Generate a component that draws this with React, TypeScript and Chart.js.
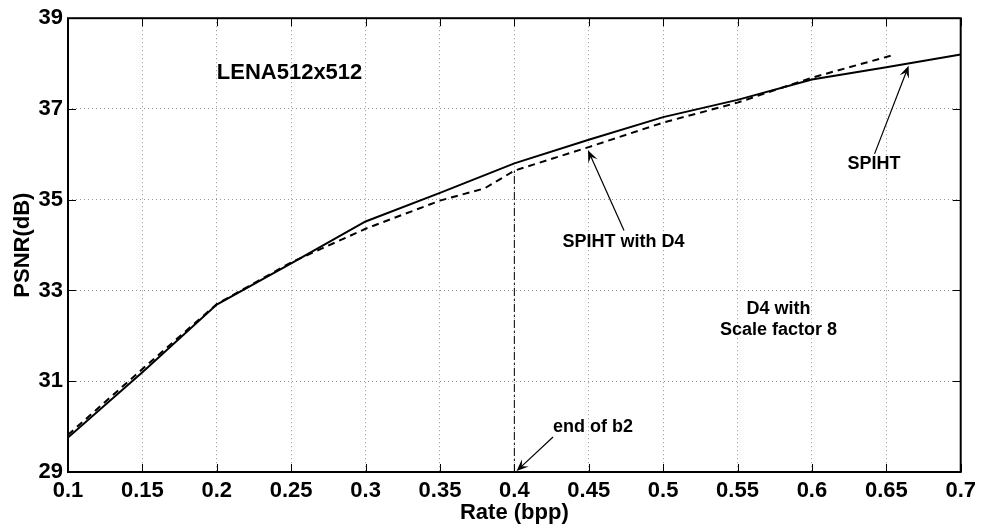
import React, { useEffect, useRef } from "react";
import { Chart, registerables } from "chart.js";
Chart.register(...registerables);

// ---- data ----
const rateSPIHT = [0.1, 0.15, 0.2, 0.25, 0.3, 0.35, 0.4, 0.45, 0.5, 0.55, 0.6, 0.65, 0.7];
const psnrSPIHT = [29.76, 31.2, 32.69, 33.6, 34.52, 35.15, 35.8, 36.32, 36.82, 37.2, 37.65, 37.92, 38.2];

const rateD4 = [0.1, 0.15, 0.2, 0.25, 0.3, 0.35, 0.38, 0.4, 0.45, 0.5, 0.55, 0.6, 0.656];
const psnrD4 = [29.82, 31.27, 32.7, 33.62, 34.36, 34.98, 35.25, 35.64, 36.16, 36.7, 37.14, 37.69, 38.2];

const b2LineX = [0.4, 0.4];
const b2LineY = [29, 35.64];

const xTicks = [0.1, 0.15, 0.2, 0.25, 0.3, 0.35, 0.4, 0.45, 0.5, 0.55, 0.6, 0.65, 0.7];
const xTickLabels = ["0.1", "0.15", "0.2", "0.25", "0.3", "0.35", "0.4", "0.45", "0.5", "0.55", "0.6", "0.65", "0.7"];
const yTicks = [29, 31, 33, 35, 37, 39];
const yTickLabels = ["29", "31", "33", "35", "37", "39"];

const noteTexts = ["LENA512x512", "SPIHT with D4", "SPIHT", "end of b2", "D4 with", "Scale factor 8"];
const noteX = [0.2, 0.4733, 0.6417, 0.4528, 0.5776, 0.5776];
const noteY = [37.8, 34.06, 35.79, 30.0, 32.59, 32.13];
const noteAlign = ["left", "center", "center", "center", "center", "center"];
const noteSize = [22, 18, 18, 18, 18, 18];

const arrowFromX = [0.4737, 0.6421, 0.426];
const arrowFromY = [34.32, 36.01, 29.77];
const arrowToX = [0.4495, 0.665, 0.4015];
const arrowToY = [36.09, 37.95, 29.02];

const FONT = "'Liberation Sans', Arial, Helvetica, sans-serif";

const decorPlugin = {
  id: "decor",
  afterDatasetsDraw(chart: any) {
    const { ctx, chartArea, scales } = chart;
    const xs = scales.x;
    const ys = scales.y;
    const { left, right, top, bottom } = chartArea;
    ctx.save();
    // inward tick marks on all four sides
    ctx.strokeStyle = "#000";
    ctx.lineWidth = 1;
    const tl = 8;
    ctx.beginPath();
    xTicks.forEach((v) => {
      const px = Math.round(xs.getPixelForValue(v)) + 0.5;
      ctx.moveTo(px, bottom);
      ctx.lineTo(px, bottom - tl);
      ctx.moveTo(px, top);
      ctx.lineTo(px, top + tl);
    });
    yTicks.forEach((v) => {
      const py = Math.round(ys.getPixelForValue(v)) + 0.5;
      ctx.moveTo(left, py);
      ctx.lineTo(left + tl, py);
      ctx.moveTo(right, py);
      ctx.lineTo(right - tl, py);
    });
    ctx.stroke();
    // box
    ctx.lineWidth = 2;
    ctx.strokeRect(left, top, right - left, bottom - top);

    // arrows
    ctx.lineWidth = 1.2;
    ctx.fillStyle = "#000";
    for (let i = 0; i < arrowFromX.length; i++) {
      const x0 = xs.getPixelForValue(arrowFromX[i]);
      const y0 = ys.getPixelForValue(arrowFromY[i]);
      const x1 = xs.getPixelForValue(arrowToX[i]);
      const y1 = ys.getPixelForValue(arrowToY[i]);
      const ang = Math.atan2(y1 - y0, x1 - x0);
      const c = Math.cos(ang), s = Math.sin(ang);
      const hl = 12, hw = 5;
      ctx.beginPath();
      ctx.moveTo(x0, y0);
      ctx.lineTo(x1 - c * hl * 0.6, y1 - s * hl * 0.6);
      ctx.stroke();
      ctx.beginPath();
      ctx.moveTo(x1, y1);
      ctx.lineTo(x1 - c * hl - s * hw, y1 - s * hl + c * hw);
      ctx.lineTo(x1 - c * hl * 0.6, y1 - s * hl * 0.6);
      ctx.lineTo(x1 - c * hl + s * hw, y1 - s * hl - c * hw);
      ctx.closePath();
      ctx.fill();
    }

    // text notes
    ctx.textBaseline = "middle";
    for (let i = 0; i < noteTexts.length; i++) {
      ctx.font = `bold ${noteSize[i]}px ${FONT}`;
      ctx.textAlign = noteAlign[i] as CanvasTextAlign;
      ctx.fillText(noteTexts[i], xs.getPixelForValue(noteX[i]), ys.getPixelForValue(noteY[i]));
    }
    ctx.restore();
  },
};

export default function App() {
  const ref = useRef<HTMLCanvasElement | null>(null);
  useEffect(() => {
    if (!ref.current) return;
    const toPts = (xa: number[], ya: number[]) => xa.map((x, i) => ({ x, y: ya[i] }));
    const chart = new Chart(ref.current, {
      type: "line",
      data: {
        datasets: [
          {
            label: "SPIHT",
            data: toPts(rateSPIHT, psnrSPIHT),
            borderColor: "#000",
            borderWidth: 2,
            pointRadius: 0,
            tension: 0,
            fill: false,
          },
          {
            label: "SPIHT with D4",
            data: toPts(rateD4, psnrD4),
            borderColor: "#000",
            borderWidth: 2,
            borderDash: [7, 5],
            pointRadius: 0,
            tension: 0,
            fill: false,
          },
          {
            label: "end of b2",
            data: toPts(b2LineX, b2LineY),
            borderColor: "#000",
            borderWidth: 1,
            borderDash: [8, 3, 2, 3],
            pointRadius: 0,
            tension: 0,
            fill: false,
          },
        ],
      },
      options: {
        animation: false,
        responsive: false,
        devicePixelRatio: 1,
        layout: { padding: { top: 15, right: 21, left: 0, bottom: 0 } },
        plugins: { legend: { display: false }, tooltip: { enabled: false } },
        scales: {
          x: {
            type: "linear",
            min: 0.1,
            max: 0.7,
            afterBuildTicks: (s: any) => {
              s.ticks = xTicks.map((v) => ({ value: v }));
            },
            afterFit: (s: any) => {
              s.height = 57;
            },
            ticks: {
              autoSkip: false,
              maxRotation: 0,
              padding: 6,
              color: "#000",
              font: { family: FONT, size: 22, weight: "bold" },
              callback: (_v: any, i: number) => xTickLabels[i],
            },
            grid: { color: "rgba(0,0,0,0.42)", lineWidth: 1, drawTicks: false },
            border: { display: false, dash: [1, 3] },
            title: {
              display: true,
              text: "Rate (bpp)",
              color: "#000",
              font: { family: FONT, size: 22, weight: "bold" },
              padding: { top: 0, bottom: 3 },
            },
          },
          y: {
            type: "linear",
            min: 29,
            max: 39,
            afterBuildTicks: (s: any) => {
              s.ticks = yTicks.map((v) => ({ value: v }));
            },
            afterFit: (s: any) => {
              s.width = 68;
            },
            ticks: {
              padding: 5,
              color: "#000",
              font: { family: FONT, size: 22, weight: "bold" },
              callback: (_v: any, i: number) => yTickLabels[i],
            },
            grid: { color: "rgba(0,0,0,0.42)", lineWidth: 1, drawTicks: false },
            border: { display: false, dash: [1, 3] },
            title: {
              display: true,
              text: "PSNR(dB)",
              color: "#000",
              font: { family: FONT, size: 22, weight: "bold" },
              padding: { top: 10, bottom: 0 },
            },
          },
        },
      },
      plugins: [decorPlugin],
    });
    return () => chart.destroy();
  }, []);
  return (
    <div style={{ position: "absolute", left: 0, top: 0, width: 982, height: 529, background: "#fff" }}>
      <canvas ref={ref} width={982} height={529} style={{ display: "block" }} />
    </div>
  );
}
